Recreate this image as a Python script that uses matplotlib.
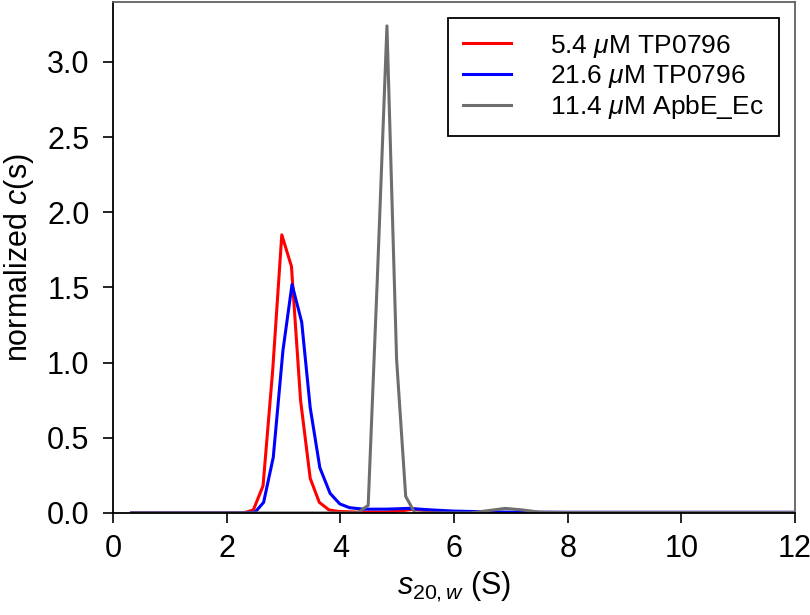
"""c(s) sedimentation distributions: TP0796 at two loadings vs ApbE_Ec."""

import matplotlib
matplotlib.use('Agg')
import matplotlib.pyplot as plt

plt.rcParams['font.family'] = ['Liberation Sans', 'DejaVu Sans']
plt.rcParams['mathtext.fontset'] = 'custom'
plt.rcParams['mathtext.rm'] = 'Liberation Sans'
plt.rcParams['mathtext.it'] = 'Liberation Sans:italic'

# s20,w (S) / normalized c(s)
s_red = [0.33, 2.30, 2.47, 2.64, 2.81, 2.97, 3.14, 3.30, 3.47, 3.63, 3.80,
         3.96, 4.30, 4.80, 5.10, 5.30, 5.50, 5.80, 6.50, 12.0]
c_red = [0.0, 0.0, 0.02, 0.18, 0.95, 1.85, 1.64, 0.75, 0.23, 0.07, 0.02,
         0.01, 0.005, 0.005, 0.015, 0.025, 0.015, 0.005, 0.0, 0.0]

s_blue = [0.33, 2.30, 2.50, 2.65, 2.82, 2.99, 3.15, 3.32, 3.47, 3.64, 3.82,
          3.99, 4.16, 4.40, 4.80, 5.20, 5.60, 6.00, 6.50, 7.00, 8.00, 12.0]
c_blue = [0.0, 0.0, 0.005, 0.07, 0.37, 1.08, 1.52, 1.27, 0.70, 0.30, 0.13,
          0.06, 0.035, 0.025, 0.025, 0.03, 0.02, 0.012, 0.008, 0.005, 0.004, 0.004]

s_gray = [0.33, 4.30, 4.49, 4.65, 4.82, 4.99, 5.15, 5.31, 5.60, 6.30, 6.60,
          6.90, 7.20, 7.50, 8.00, 12.0]
c_gray = [0.0, 0.0, 0.05, 1.55, 3.24, 1.02, 0.11, 0.0, 0.0, 0.0, 0.015,
          0.03, 0.02, 0.005, 0.003, 0.003]

labels = [r'5.4 $\mu$M TP0796', r'21.6 $\mu$M TP0796', r'11.4 $\mu$M ApbE_Ec']
x_ticks = [0, 2, 4, 6, 8, 10, 12]
y_ticks = [0.0, 0.5, 1.0, 1.5, 2.0, 2.5, 3.0]

fig = plt.figure(figsize=(8.1, 6.15), dpi=100)
ax = fig.add_axes([0.1395, 0.166, 0.842, 0.831])

ax.plot(s_red, c_red, color='#ff0000', lw=2.2, label=labels[0])
ax.plot(s_blue, c_blue, color='#0000ff', lw=2.2, label=labels[1])
ax.plot(s_gray, c_gray, color='#6e6e6e', lw=2.2, label=labels[2])

ax.set_xlim(0, 12)
ax.set_ylim(0, 3.4)
ax.set_xticks(x_ticks)
ax.set_yticks(y_ticks)
ax.set_yticklabels([f'{v:.1f}' for v in y_ticks])
ax.tick_params(direction='out', length=7, width=1.2, labelsize=22, pad=8)
ax.tick_params(axis='y', pad=10)

for side in ('left', 'bottom'):
    ax.spines[side].set_linewidth(1.3)
    ax.spines[side].set_color('black')
for side in ('top', 'right'):
    ax.spines[side].set_linewidth(1.3)
    ax.spines[side].set_color('#606060')

ax.set_xlabel(r'$\mathit{s}_{\mathit{20,w}}$ (S)', fontsize=22, labelpad=4)
ax.set_ylabel(r'normalized $\mathit{c}$(s)', fontsize=22, labelpad=8)

leg = ax.legend(loc='upper right', fontsize=19, frameon=True, fancybox=False,
                edgecolor='black', framealpha=1, borderaxespad=0.6,
                handlelength=1.82, handletextpad=1.5, labelspacing=0.12,
                borderpad=0.57)
leg.get_frame().set_linewidth(1.3)

fig.savefig('out.png', dpi=100)
